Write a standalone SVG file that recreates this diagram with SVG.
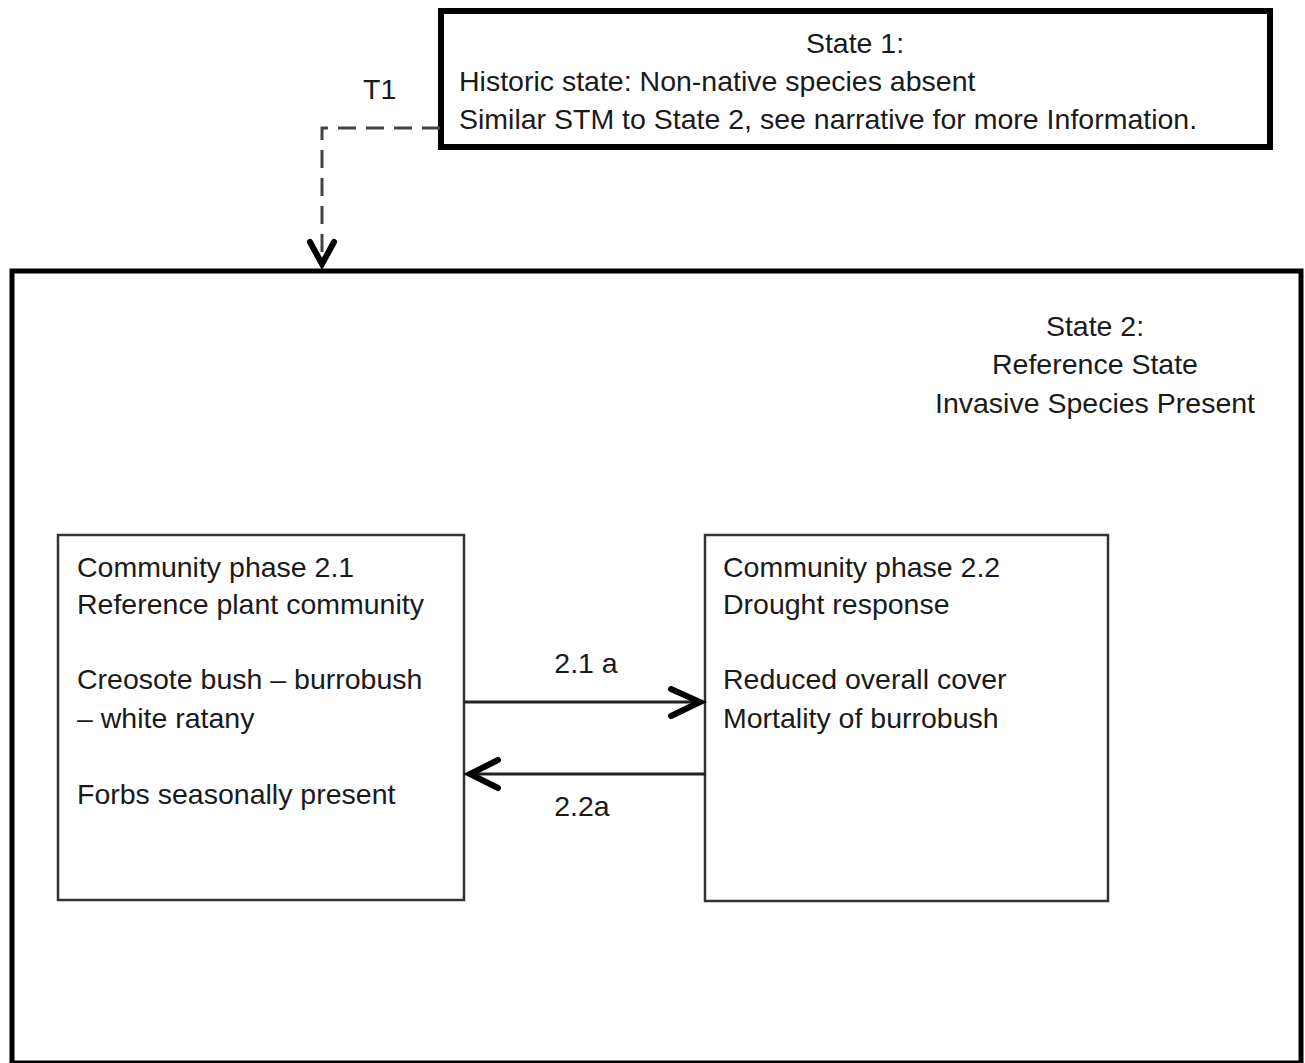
<svg xmlns="http://www.w3.org/2000/svg" width="1305" height="1063" viewBox="0 0 1305 1063">
<style>
text{font-family:"Liberation Sans",Arial,sans-serif;font-size:28.5px;fill:#1a1a1a}
.c{text-anchor:middle}
.thick{fill:#fff;stroke:#000;stroke-width:6}
.phase{fill:#fff;stroke:#333;stroke-width:2.5}
.conn{fill:none;stroke:#222;stroke-width:3}
.dash{fill:none;stroke:#444;stroke-width:3;stroke-dasharray:18 10}
.head{fill:none;stroke:#000;stroke-width:6;stroke-linecap:round;stroke-linejoin:miter}
</style>
<rect width="1305" height="1063" fill="#fff"/>
<g id="state2">
<rect class="thick" x="12" y="271" width="1289" height="792" style="stroke-width:5"/>
<text class="c" x="1095" y="336">State 2:</text>
<text class="c" x="1095" y="374">Reference State</text>
<text class="c" x="1095" y="413">Invasive Species Present</text>
</g>
<g id="state1">
<rect class="thick" x="441" y="11" width="829" height="136"/>
<text class="c" x="855" y="53">State 1:</text>
<text x="459" y="91">Historic state: Non-native species absent</text>
<text x="459" y="129">Similar STM to State 2, see narrative for more Information.</text>
</g>
<g id="phase21">
<rect class="phase" x="58" y="535" width="406" height="365"/>
<text x="77" y="577">Community phase 2.1</text>
<text x="77" y="614">Reference plant community</text>
<text x="77" y="689">Creosote bush – burrobush</text>
<text x="77" y="728">– white ratany</text>
<text x="77" y="804">Forbs seasonally present</text>
</g>
<g id="phase22">
<rect class="phase" x="705" y="535" width="403" height="366"/>
<text x="723" y="577">Community phase 2.2</text>
<text x="723" y="614">Drought response</text>
<text x="723" y="689">Reduced overall cover</text>
<text x="723" y="728">Mortality of burrobush</text>
</g>
<g id="connectors">
<path class="dash" d="M440 128 H322 V262"/>
<path class="head" d="M310 242 L322 264 L334 242"/>
<text x="363" y="99">T1</text>
<path class="conn" d="M464 702 H699"/>
<path class="head" d="M671 689 L700 702 L671 716"/>
<text class="c" x="586" y="673">2.1 a</text>
<path class="conn" d="M705 774 H471"/>
<path class="head" d="M498 760 L470 774 L498 788"/>
<text class="c" x="582" y="816">2.2a</text>
</g>
</svg>
